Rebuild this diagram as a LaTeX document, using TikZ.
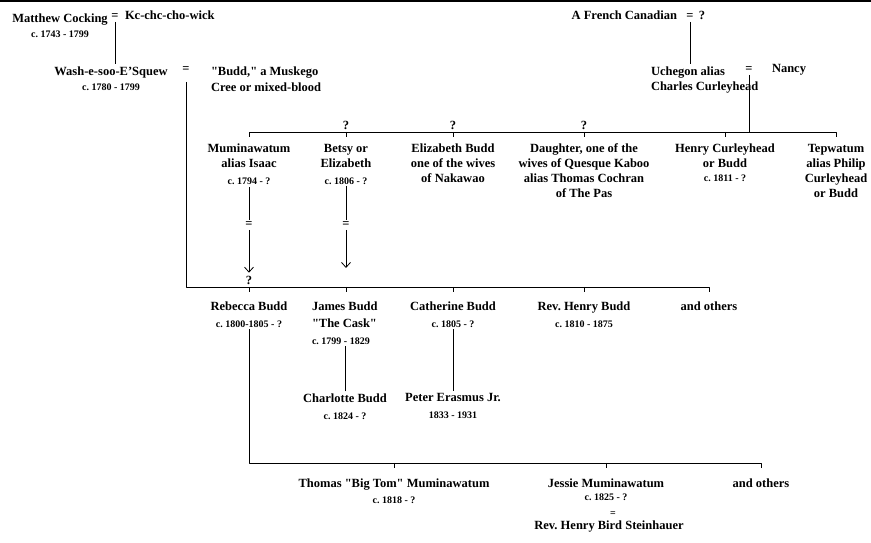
\documentclass[tikz,border=0pt]{standalone}
\usepackage{fontspec}
\setmainfont{Liberation Serif}
\usepackage{xcolor}
\usepackage{tikz}
\usetikzlibrary{arrows.meta}
\newcommand{\datesize}{\fontsize{10}{12}\selectfont}
\frenchspacing

\begin{document}
\begin{tikzpicture}[x=1pt,y=1pt,
  person/.style={text=drawColor,align=center,anchor=north,inner sep=0pt,outer sep=2pt,
    font=\fontsize{12.5}{15}\selectfont\bfseries},
  single/.style={text=drawColor,anchor=base,inner sep=0pt,outer sep=2pt,
    font=\fontsize{12.5}{15}\selectfont\bfseries},
  kinline/.style={draw=drawColor,line width=0.8pt,line join=round},
  arrowline/.style={kinline,-{Straight Barb[length=5pt,width=9pt]}}]
\definecolor{drawColor}{RGB}{0,0,0}
\definecolor{fillColor}{RGB}{255,255,255}
\path[use as bounding box,fill=fillColor] (0,0) rectangle (871,543);
\path[draw=drawColor,line width=2.5pt] (0,542) -- (871,542);

% first couples
\node[person] (cocking) at (60,531.5) {Matthew Cocking\\{\datesize c. 1743 - 1799}};
\node[single] (cockeq) at (115,523) {=};
\node[single,anchor=base west] (kcwick) at (123,523) {Kc-chc-cho-wick};

\node[single,anchor=base east] (french) at (679,523) {A French Canadian};
\node[single] (frencheq) at (690,523) {=};
\node[single] (frenchq) at (702,523) {?};

\node[person] (wash) at (111,478.5) {Wash-e-soo-E'Squew\\{\datesize c. 1780 - 1799}};
\node[single] (washeq) at (186,470) {=};
\node[person,anchor=north west,align=left] (budd) at (209,478.5) {\textquotedbl Budd,\textquotedbl{} a Muskego\\[1pt]Cree or mixed-blood};

\node[person,anchor=north west,align=left] (uchegon) at (649,478.5) {Uchegon alias\\Charles Curleyhead};
\node[single] (uchegoneq) at (749,470) {=};
\node[single,anchor=base west] (nancy) at (770,470) {Nancy};

\draw[kinline] (cockeq.south) -- (cockeq.south |- wash.north);
\draw[kinline] (frencheq.south) -- (frencheq.south |- uchegon.north);

% children of Uchegon and Nancy
\node[person] (muminawatum) at (249,401) {Muminawatum\\alias Isaac\\[2pt]{\datesize c. 1794 - ?}};
\node[person] (betsy) at (346,401) {Betsy or\\Elizabeth\\[2pt]{\datesize c. 1806 - ?}};
\node[person] (elizabeth) at (453,401) {Elizabeth Budd\\one of the wives\\of Nakawao};
\node[person] (daughter) at (584,401) {Daughter, one of the\\wives of Quesque Kaboo\\alias Thomas Cochran\\of The Pas};
\node[person] (henryc) at (725,401) {Henry Curleyhead\\or Budd\\[-1pt]{\datesize c. 1811 - ?}};
\node[person] (tepwatum) at (836,401) {Tepwatum\\alias Philip\\Curleyhead\\or Budd};

\coordinate (sibs) at (0,411);
\draw[kinline] (uchegoneq.south) -- (uchegoneq.south |- sibs);
\draw[kinline] (muminawatum.north |- sibs) ++(0,-5) -- ++(0,5) -- (tepwatum.north |- sibs) -- ++(0,-5);
\foreach \kid in {betsy,elizabeth,daughter,henryc}
  \draw[kinline] (\kid.north |- sibs) -- ++(0,-5);
\foreach \kid in {betsy,elizabeth,daughter}
  \node[single,yshift=2pt] (q\kid) at (\kid.north |- sibs) {?};

% marriages into the Budd family
\node[single,anchor=center] (mumeq) at (249,318) {=};
\node[single,anchor=center] (betsyeq) at (346,318) {=};
\node[single] (rebq) at (249,258) {?};
\coordinate (betsytip) at (346,275);
\draw[kinline] (muminawatum.south) -- (mumeq.north);
\draw[arrowline,shorten >=2pt] (mumeq.south) -- (rebq.north);
\draw[kinline] (betsy.south) -- (betsyeq.north);
\draw[arrowline] (betsyeq.south) -- (betsytip);

% children of Wash-e-soo-E'Squew
\node[person] (rebecca) at (249,243.5) {Rebecca Budd\\[2pt]{\datesize c. 1800-1805 - ?}};
\node[person,anchor=north west,align=left] (james) at (310,243.5) {James Budd\\[2pt]\textquotedbl The Cask\textquotedbl\\[2pt]{\datesize c. 1799 - 1829}};
\node[person] (catherine) at (453,243.5) {Catherine Budd\\[2pt]{\datesize c. 1805 - ?}};
\node[person] (henryb) at (584,243.5) {Rev. Henry Budd\\[2pt]{\datesize c. 1810 - 1875}};
\node[person] (others1) at (709,243.5) {and others};

\coordinate (gen2) at (0,256);
\draw[kinline,shorten <=7pt] (washeq.south) -- (washeq.south |- gen2) -- (others1.north |- gen2) -- ++(0,-5);
\foreach \kid in {rebecca,catherine,henryb}
  \draw[kinline] (\kid.north |- gen2) -- ++(0,-5);
\draw[kinline] (betsytip |- gen2) -- ++(0,-5);

\node[person] (charlotte) at (345,151.5) {Charlotte Budd\\[2pt]{\datesize c. 1824 - ?}};
\node[person] (peter) at (453,151.5) {Peter Erasmus Jr.\\[2pt]{\datesize 1833 - 1931}};
\draw[kinline] (charlotte.north) -- (charlotte.north |- james.south);
\draw[kinline] (catherine.south) -- (peter.north);

% children of Rebecca Budd
\node[person] (thomas) at (394,66.5) {Thomas \textquotedbl Big Tom\textquotedbl{} Muminawatum\\[1pt]{\datesize c. 1818 - ?}};
\node[person] (jessie) at (606,66.5) {Jessie Muminawatum\\[-2pt]{\datesize c. 1825 - ?}};
\node[single,anchor=center,font=\datesize\bfseries] (jessieeq) at (613,29) {=};
\node[single] (steinhauer) at (609,13) {Rev. Henry Bird Steinhauer};
\node[person] (others2) at (761,66.5) {and others};

\coordinate (gen3) at (0,80);
\draw[kinline] (rebecca.south) -- (rebecca.south |- gen3) -- (others2.north |- gen3) -- ++(0,-5);
\foreach \kid in {thomas,jessie}
  \draw[kinline] (\kid.north |- gen3) -- ++(0,-5);
\end{tikzpicture}
\end{document}
